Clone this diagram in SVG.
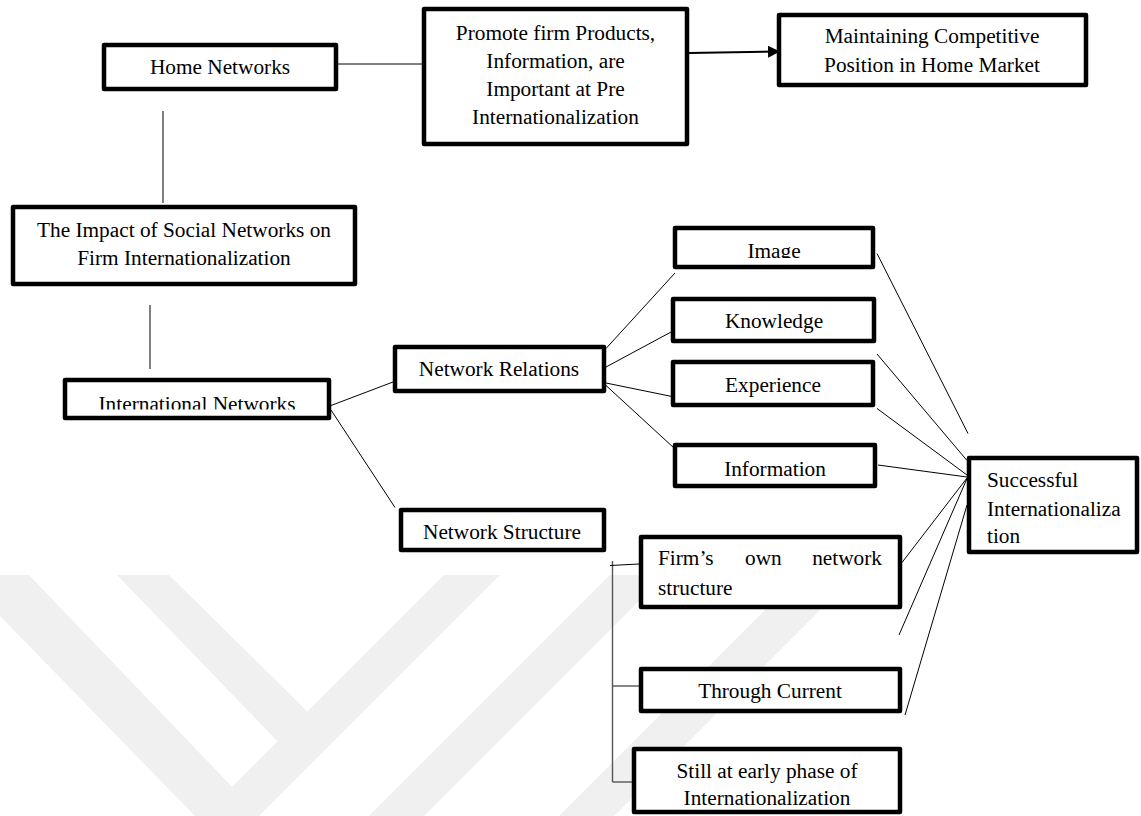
<svg xmlns="http://www.w3.org/2000/svg" width="1141" height="816" viewBox="0 0 1141 816">
<style>
.box{fill:#fff;stroke:#000;stroke-width:4.5;stroke-linejoin:round}
.t{font-family:"Liberation Serif","Times New Roman",serif;font-size:21.3px;fill:#000}
.c{text-anchor:middle}
.ln{stroke:#000;stroke-width:1;fill:none}
.br{stroke:#555;stroke-width:1.4;fill:none}
.wm{fill:#f0f0f0}
</style>
<defs>
<marker id="arr" markerWidth="12" markerHeight="12" refX="11" refY="6" orient="auto" markerUnits="userSpaceOnUse">
<path d="M0,0 L12,6 L0,12 Z" fill="#000"/>
</marker>
<clipPath id="clipInt"><rect x="60" y="370" width="280" height="39.5"/></clipPath>
<clipPath id="clipImg"><rect x="670" y="220" width="210" height="38"/></clipPath>
</defs>
<rect width="1141" height="816" fill="#fff"/>
<g id="watermark">
<polygon class="wm" points="-40,575 29,575 260,816 195,816"/>
<polygon class="wm" points="117,575 169,575 312,716 282,746"/>
<polygon class="wm" points="444,575 500,575 259,816 203,816"/>
<polygon class="wm" points="610,575 665,575 424,816 369,816"/>
<polygon class="wm" points="800,575 855,575 614,816 559,816"/>
</g>
<g id="connectors">
<line class="ln" x1="163" y1="111" x2="163" y2="203"/>
<line class="ln" x1="150" y1="305" x2="150" y2="369"/>
<line class="ln" x1="338" y1="64" x2="422" y2="64"/>
<line x1="689" y1="53" x2="779" y2="51.5" stroke="#000" stroke-width="2" marker-end="url(#arr)"/>
<line class="ln" x1="331" y1="405.5" x2="393" y2="382"/>
<line class="ln" x1="331" y1="410" x2="395" y2="507.5"/>
<line class="ln" x1="606" y1="348.5" x2="675" y2="273"/>
<line class="ln" x1="606" y1="367" x2="672" y2="331.5"/>
<line class="ln" x1="606" y1="383" x2="672" y2="396.5"/>
<line class="ln" x1="606" y1="385.5" x2="674" y2="448"/>
<line class="ln" x1="877" y1="253.5" x2="968" y2="433.5"/>
<line class="ln" x1="877" y1="354" x2="967" y2="460.5"/>
<line class="ln" x1="877" y1="408.5" x2="967" y2="475"/>
<line class="ln" x1="878" y1="465" x2="967" y2="477"/>
<line class="ln" x1="902" y1="562.5" x2="967" y2="478"/>
<line class="ln" x1="899" y1="635" x2="967" y2="478.5"/>
<line class="ln" x1="905" y1="715" x2="967" y2="505"/>
<line class="br" x1="612.5" y1="561" x2="612.5" y2="782"/>
<line class="ln" x1="610" y1="565.5" x2="639" y2="564"/>
<line class="br" x1="612.5" y1="686" x2="639" y2="686"/>
<line class="br" x1="612.5" y1="782" x2="632" y2="782"/>
</g>
<g id="home"><rect class="box" x="104" y="45" width="232" height="44"/><text class="t c" x="220" y="74">Home Networks</text></g>
<g id="promote"><rect class="box" x="424" y="9" width="263" height="135"/>
<text class="t c" x="555.5" y="40">Promote firm Products,</text>
<text class="t c" x="555.5" y="68">Information, are</text>
<text class="t c" x="555.5" y="96">Important at Pre</text>
<text class="t c" x="555.5" y="124">Internationalization</text></g>
<g id="maintaining"><rect class="box" x="779" y="15" width="307" height="70"/>
<text class="t c" x="932" y="43">Maintaining Competitive</text>
<text class="t c" x="932" y="72">Position in Home Market</text></g>
<g id="impact"><rect class="box" x="13" y="207" width="342" height="77"/>
<text class="t c" x="184" y="237">The Impact of Social Networks on</text>
<text class="t c" x="184" y="265">Firm Internationalization</text></g>
<g id="international"><rect class="box" x="65" y="380" width="264" height="38"/>
<text class="t c" x="197" y="411" clip-path="url(#clipInt)">International Networks</text></g>
<g id="relations"><rect class="box" x="395" y="347" width="209" height="44"/><text class="t c" x="499" y="376">Network Relations</text></g>
<g id="structure"><rect class="box" x="401" y="510" width="203" height="40"/><text class="t c" x="502" y="539">Network Structure</text></g>
<g id="image"><rect class="box" x="675" y="228" width="198" height="39"/><text class="t c" x="774" y="258" clip-path="url(#clipImg)">Image</text></g>
<g id="knowledge"><rect class="box" x="673" y="299" width="201" height="42"/><text class="t c" x="774" y="328">Knowledge</text></g>
<g id="experience"><rect class="box" x="673" y="362" width="200" height="43"/><text class="t c" x="773" y="392">Experience</text></g>
<g id="information"><rect class="box" x="675" y="445" width="200" height="41"/><text class="t c" x="775" y="475.5">Information</text></g>
<g id="successful"><rect class="box" x="969" y="458" width="168" height="94"/>
<text class="t" x="987" y="487">Successful</text>
<text class="t" x="987" y="515.5">Internationaliza</text>
<text class="t" x="987" y="543">tion</text></g>
<g id="firmown"><rect class="box" x="641" y="537" width="259" height="70"/>
<text class="t" x="658" y="565">Firm’s</text>
<text class="t" x="745" y="565">own</text>
<text class="t" x="882" y="565" text-anchor="end">network</text>
<text class="t" x="658" y="595">structure</text></g>
<g id="through"><rect class="box" x="641" y="669" width="259" height="42"/><text class="t c" x="770" y="698">Through Current</text></g>
<g id="still"><rect class="box" x="634" y="749" width="266" height="63"/>
<text class="t c" x="767" y="778">Still at early phase of</text>
<text class="t c" x="767" y="805">Internationalization</text></g>
</svg>
